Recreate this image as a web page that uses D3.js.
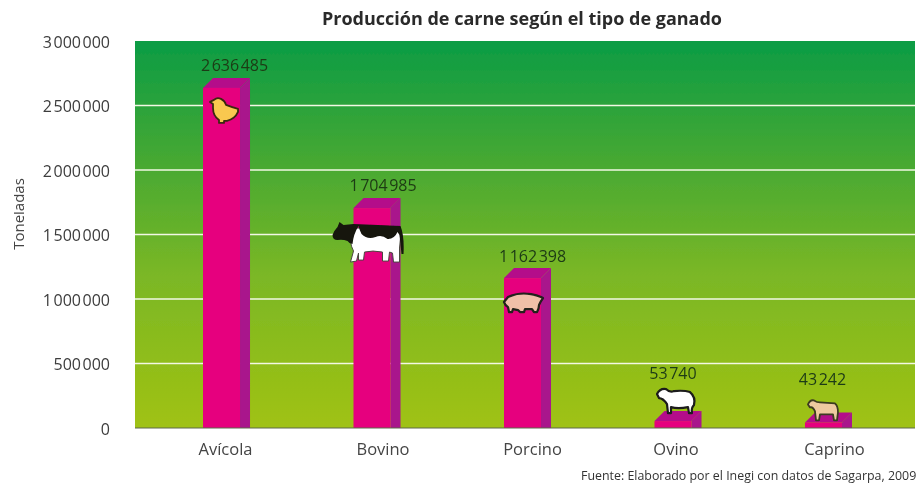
<!DOCTYPE html>
<html lang="es">
<head>
<meta charset="utf-8">
<title>Producción de carne</title>
<script src="https://cdn.jsdelivr.net/npm/d3@7"></script>
<style>
    html, body { margin: 0; padding: 0; background: #fff; overflow: hidden; }
    text { font-family: "Open Sans", sans-serif; }
</style>
</head>
<body>
<div id="chart-area"></div>
<script>
var categories = ["Avícola", "Bovino", "Porcino", "Ovino", "Caprino"];
var production = [2636485, 1704985, 1162398, 53740, 43242];
var yTicks = [0, 500000, 1000000, 1500000, 2000000, 2500000, 3000000];

var width = 921;
var height = 484;
var plot = { left: 135, right: 915, top: 41, bottom: 428 };
var depth = 10;

// small hand nudges, the labels in the source are not quite centred
var valueNudge = [[13, -17], [11, -17], [10, -16], [0, -42], [-1, -37]];
var categoryNudge = [4, 11, 10, 3, 11];

// animals, drawn around their own centre
var animals = [
    { dx: 3.5, dy: 23, fill: "#f9c850", stroke: "#3a2a10", sw: 1.8, paths: [
        "M-15,-9 L-11,-11 Q-8,-14 -4,-12 Q0,-10 1,-6 Q6,-4 13,-2 L13,1 Q10,8 2,10 L-1,10 L-1,12 L-6,12 L-6,9 Q-12,5 -12,-3 Q-12,-6 -12,-7 Z"
    ] },
    { dx: -4.5, dy: 34, fill: "#fff", stroke: "#4a4a40", sw: 1, black: "M-35,-7 Q-33,-12 -30,-15 L-28,-20 L-24,-17 L-14,-18 L33,-16 Q37,-6 36,12 L34,12 L32,-7 L30,-10 Q27,-3 20,-3 Q14,-8 8,-5 Q0,-2 -6,-8 Q-8,-12 -9,-16 Q-14,-8 -15,2 Q-18,2 -20,-1 Q-25,-3 -30,-2 Q-35,-2 -35,-7 Z", paths: [
        "M-16,-14 L32,-14 Q34,-4 32,6 L32,20 L26,20 L25,11 L22,10 L21,19 L15,19 L15,10 Q5,8 -3,10 L-4,18 L-9,18 L-9,11 L-11,19 L-17,20 L-14,9 Q-19,0 -16,-14 Z"
    ] },
    { dx: 0.5, dy: 25, fill: "#f0bfa8", stroke: "#20201a", sw: 2.2, paths: [
        "M-19,-1 L-15,-6 Q-5,-11 8,-9 Q14,-8 18,-6 L20,-5 L18,-2 L16,2 Q16,6 14,9 L11,9 L9,6 L2,6 L1,9 L-3,9 L-5,7 L-10,6 L-11,9 L-14,9 L-15,4 Q-18,2 -19,-1 Z"
    ] },
    { dx: 3, dy: -21, fill: "#fff", stroke: "#1a1a1a", sw: 2.2, paths: [
        "M-19,-6 Q-16,-12 -10,-11 Q-6,-7 -2,-9 Q8,-10 14,-8 Q20,-3 18,5 Q15,8 16,13 L13,13 L12,7 Q2,9 -5,7 L-5,13 L-8,13 L-9,4 Q-13,-2 -17,-2 Z"
    ] },
    { dx: -0.5, dy: -14, fill: "#eec9a0", stroke: "#3c3a20", sw: 1.8, paths: [
        "M-15,-4 Q-13,-9 -9,-8 Q-6,-6 -3,-6 L12,-5 Q15,-3 15,4 L14,12 L11,12 L10,6 L-3,6 L-4,12 L-7,12 L-8,3 Q-10,-2 -13,-1 Z"
    ] }
];

var svg = d3.select("#chart-area").append("svg")
    .attr("width", width)
    .attr("height", height)
    .style("display", "block");

var defs = svg.append("defs");

var grad = defs.append("linearGradient")
    .attr("id", "bg")
    .attr("x1", 0).attr("y1", 0)
    .attr("x2", 0).attr("y2", 1);
grad.append("stop").attr("offset", "0%").attr("stop-color", "#0b9c45");
grad.append("stop").attr("offset", "30%").attr("stop-color", "#44a833");
grad.append("stop").attr("offset", "60%").attr("stop-color", "#7ab726");
grad.append("stop").attr("offset", "100%").attr("stop-color", "#a0c212");

defs.append("filter").attr("id", "soft")
    .attr("filterUnits", "userSpaceOnUse")
    .attr("x", 0).attr("y", 0)
    .attr("width", width).attr("height", height)
  .append("feGaussianBlur").attr("stdDeviation", 0.5);

defs.append("clipPath").attr("id", "cut-left")
  .append("rect").attr("x", 14.5).attr("y", 0).attr("width", 60).attr("height", height);

var g = svg.append("g").attr("filter", "url(#soft)");

var x = d3.scaleBand()
    .domain(categories)
    .range([203, 842])
    .paddingInner(0.754)
    .paddingOuter(0);

var y = d3.scaleLinear()
    .domain([0, 3000000])
    .range([plot.bottom, plot.top]);

var fmt = d3.formatLocale({ decimal: ",", thousands: "\u200a", grouping: [3], currency: ["", ""] }).format(",");

// background
g.append("rect")
    .attr("x", plot.left)
    .attr("y", plot.top)
    .attr("width", plot.right - plot.left)
    .attr("height", plot.bottom - plot.top)
    .attr("fill", "url(#bg)");

// grid
g.append("g").selectAll("line")
    .data(yTicks.slice(1, -1))
    .enter().append("line")
        .attr("x1", plot.left)
        .attr("x2", plot.right)
        .attr("y1", (d) => y(d))
        .attr("y2", (d) => y(d))
        .attr("stroke", "#f2f8e4")
        .attr("stroke-width", 1.5);

// y Axis
var yAxisCall = d3.axisLeft(y)
    .tickValues(yTicks)
    .tickSize(0)
    .tickFormat(fmt);
var yAxis = g.append("g")
    .attr("class", "y axis")
    .attr("transform", "translate(110, 0)")
    .call(yAxisCall);
yAxis.select(".domain").remove();
yAxis.selectAll("text")
    .attr("x", 0)
    .attr("dy", "0.4em")
    .attr("fill", "#3c3c3c")
    .style("font-family", "'Open Sans', sans-serif")
    .style("font-size", "16px");

// bars
var bars = g.selectAll(".bar")
    .data(categories)
    .enter().append("g")
        .attr("class", "bar");

bars.append("path")
    .attr("fill", "#a9128c")
    .attr("d", (d, i) => {
        var x1 = x(d) + x.bandwidth();
        var top = y(production[i]);
        return "M" + x1 + "," + top + "L" + (x1 + depth) + "," + (top - depth) +
            "V" + plot.bottom + "H" + x1 + "Z";
    });

bars.append("path")
    .attr("fill", "#b4108a")
    .attr("d", (d, i) => {
        var x0 = x(d);
        var top = y(production[i]);
        return "M" + x0 + "," + top + "L" + (x0 + depth) + "," + (top - depth) +
            "H" + (x0 + x.bandwidth() + depth) + "L" + (x0 + x.bandwidth()) + "," + top + "Z";
    });

bars.append("rect")
    .attr("x", (d) => x(d))
    .attr("y", (d, i) => y(production[i]))
    .attr("width", x.bandwidth())
    .attr("height", (d, i) => plot.bottom - y(production[i]))
    .attr("fill", "#e6007e");

// baseline
g.append("line")
    .attr("x1", plot.left)
    .attr("x2", plot.right)
    .attr("y1", plot.bottom)
    .attr("y2", plot.bottom)
    .attr("stroke", "#5f6a4a")
    .attr("stroke-width", 1);

// animals
var icons = g.selectAll(".animal")
    .data(animals)
    .enter().append("g")
        .attr("class", "animal")
        .attr("transform", (d, i) => "translate(" +
            (x(categories[i]) + x.bandwidth() / 2 + d.dx) + "," +
            (y(production[i]) + d.dy) + ")");

icons.selectAll(".body")
    .data((d) => d.paths.map((p) => ({ p: p, a: d })))
    .enter().append("path")
        .attr("class", "body")
        .attr("d", (d) => d.p)
        .attr("fill", (d) => d.a.fill)
        .attr("stroke", (d) => d.a.stroke)
        .attr("stroke-width", (d) => d.a.sw)
        .attr("stroke-linejoin", "round");

icons.filter((d) => d.black).append("path")
    .attr("d", (d) => d.black)
    .attr("fill", "#15150f");

// value labels
g.selectAll(".value")
    .data(categories)
    .enter().append("text")
        .attr("class", "value")
        .attr("x", (d, i) => x(d) + x.bandwidth() / 2 + valueNudge[i][0])
        .attr("y", (d, i) => y(production[i]) + valueNudge[i][1])
        .attr("text-anchor", "middle")
        .attr("fill", "#1d3a14")
        .style("font-size", "16px")
        .text((d, i) => fmt(production[i]));

// x Axis
var xAxisCall = d3.axisBottom(x).tickSize(0);
var xAxis = g.append("g")
    .attr("class", "x axis")
    .attr("transform", "translate(0, " + plot.bottom + ")")
    .call(xAxisCall);
xAxis.select(".domain").remove();
xAxis.selectAll("text")
    .attr("x", (d, i) => categoryNudge[i])
    .attr("y", 15)
    .attr("fill", "#444")
    .style("font-family", "'Open Sans', sans-serif")
    .style("font-size", "16.5px");

// y Label
g.append("g")
    .attr("clip-path", "url(#cut-left)")
  .append("text")
    .attr("x", -214)
    .attr("y", 23.5)
    .attr("text-anchor", "middle")
    .attr("transform", "rotate(-90)")
    .attr("fill", "#444")
    .style("font-size", "15px")
    .text("Toneladas");

// title
g.append("text")
    .attr("x", 522)
    .attr("y", 25)
    .attr("text-anchor", "middle")
    .attr("fill", "#2a2a2a")
    .style("font-size", "18px")
    .style("font-weight", "700")
    .text("Producción de carne según el tipo de ganado");

// source
g.append("text")
    .attr("x", 581)
    .attr("y", 480)
    .attr("fill", "#333")
    .style("font-size", "12.4px")
    .text("Fuente: Elaborado por el Inegi con datos de Sagarpa, 2009");
</script>
</body>
</html>
